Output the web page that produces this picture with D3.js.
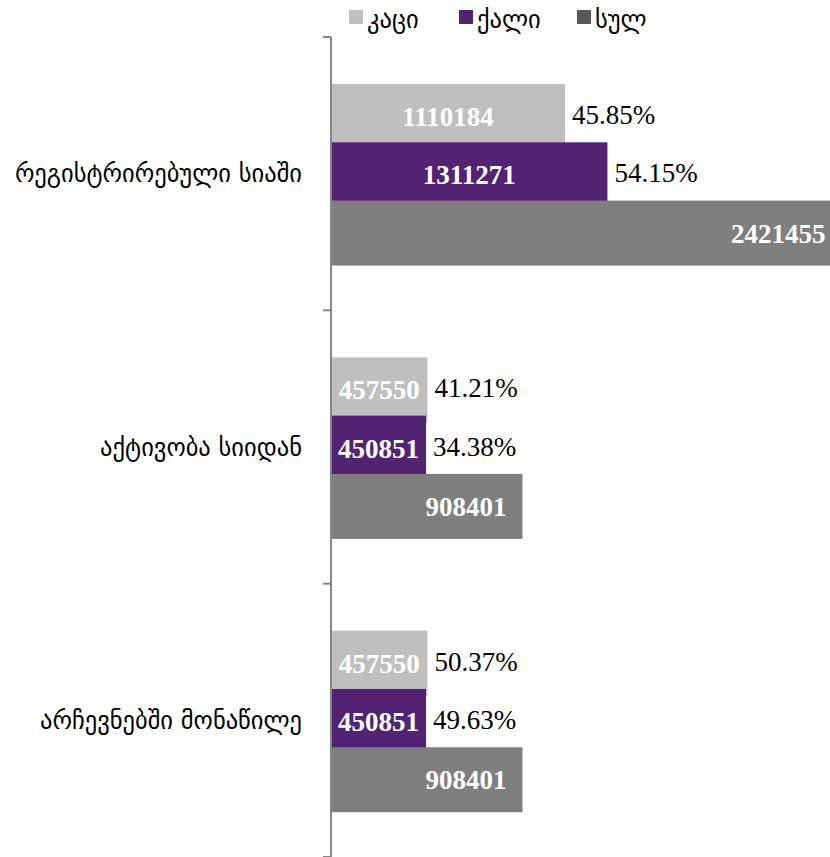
<!DOCTYPE html>
<html>
<head>
<meta charset="utf-8">
<script src="https://cdn.jsdelivr.net/npm/d3@7"></script>
<style>
  html, body { margin: 0; padding: 0; background: #ffffff; }
  svg { display: block; }
</style>
</head>
<body>
<svg id="chart" width="830" height="857"></svg>
<script>
const categories = ["რეგისტრირებული სიაში", "აქტივობა სიიდან", "არჩევნებში მონაწილე"];
const seriesNames = ["კაცი", "ქალი", "სულ"];
const maleValues = [1110184, 457550, 457550];
const femaleValues = [1311271, 450851, 450851];
const totalValues = [2421455, 908401, 908401];
const malePercent = ["45.85%", "41.21%", "50.37%"];
const femalePercent = ["54.15%", "34.38%", "49.63%"];

const barColors = ["#bfbfbf", "#532373", "#7f7f7f"];
const legendColors = ["#bfbfbf", "#532373", "#595959"];

const svg = d3.select("#chart");
const axisX = 331;

const y = d3.scaleBand().domain(categories).range([37, 857]).padding(0);
const inner = d3.scaleBand().domain(seriesNames).range([47, 47 + 3 * 58.3]).padding(0);
const barH = 65;
const x = d3.scaleLinear().domain([0, 2500000]).range([axisX, axisX + 527]);

const valuesBySeries = [maleValues, femaleValues, totalValues];
const pctBySeries = [malePercent, femalePercent, null];

const rows = [];
seriesNames.forEach((s, si) => {
  categories.forEach((c, ci) => {
    rows.push({ cat: c, series: s, si, value: valuesBySeries[si][ci], pct: pctBySeries[si] ? pctBySeries[si][ci] : null });
  });
});

const g = svg.append("g");

g.selectAll("rect.bar").data(rows).join("rect")
  .attr("class", "bar")
  .attr("x", axisX)
  .attr("y", d => y(d.cat) + inner(d.series))
  .attr("width", d => x(d.value) - axisX)
  .attr("height", barH)
  .attr("fill", d => barColors[d.si]);

const serif = "'Liberation Serif', 'DejaVu Serif', serif";
g.selectAll("text.val").data(rows).join("text")
  .attr("class", "val")
  .attr("x", d => d.si < 2 ? (axisX + x(d.value)) / 2 : x(d.value) - 16)
  .attr("y", d => y(d.cat) + inner(d.series) + barH / 2)
  .attr("dy", "0.35em")
  .attr("text-anchor", d => d.si < 2 ? "middle" : "end")
  .attr("fill", "#ffffff")
  .style("font-family", serif)
  .style("font-size", "27px")
  .style("font-weight", "bold")
  .text(d => d.value);

g.selectAll("text.pct").data(rows.filter(d => d.pct)).join("text")
  .attr("class", "pct")
  .attr("x", d => x(d.value) + 7)
  .attr("y", d => y(d.cat) + inner(d.series) + barH / 2 - 2)
  .attr("dy", "0.35em")
  .attr("fill", "#000000")
  .style("font-family", serif)
  .style("font-size", "27px")
  .text(d => d.pct);

const axisColor = "#868686";
g.append("line")
  .attr("x1", axisX).attr("x2", axisX)
  .attr("y1", y.range()[0]).attr("y2", y.range()[1])
  .attr("stroke", axisColor).attr("stroke-width", 2);

const boundaries = categories.map(c => y(c)).concat([y.range()[1]]);
g.selectAll("line.tick").data(boundaries).join("line")
  .attr("class", "tick")
  .attr("x1", axisX - 8).attr("x2", axisX)
  .attr("y1", d => d).attr("y2", d => d)
  .attr("stroke", axisColor).attr("stroke-width", 2);

const geo = "'DejaVu Sans', sans-serif";
g.selectAll("text.cat").data(categories).join("text")
  .attr("class", "cat")
  .attr("x", 302)
  .attr("y", d => y(d) + y.bandwidth() / 2)
  .attr("dy", "0.35em")
  .attr("text-anchor", "end")
  .attr("fill", "#000000")
  .style("font-family", geo)
  .style("font-size", "24.5px")
  .text(d => d);

const legendX = [349, 459, 577];
const lg = svg.append("g");
seriesNames.forEach((s, i) => {
  lg.append("rect")
    .attr("x", legendX[i]).attr("y", 10)
    .attr("width", 14).attr("height", 14)
    .attr("fill", legendColors[i]);
  lg.append("text")
    .attr("x", legendX[i] + 18).attr("y", 19)
    .attr("dy", "0.35em")
    .attr("fill", "#000000")
    .style("font-family", geo)
    .style("font-size", "24.5px")
    .text(s);
});
</script>
</body>
</html>
